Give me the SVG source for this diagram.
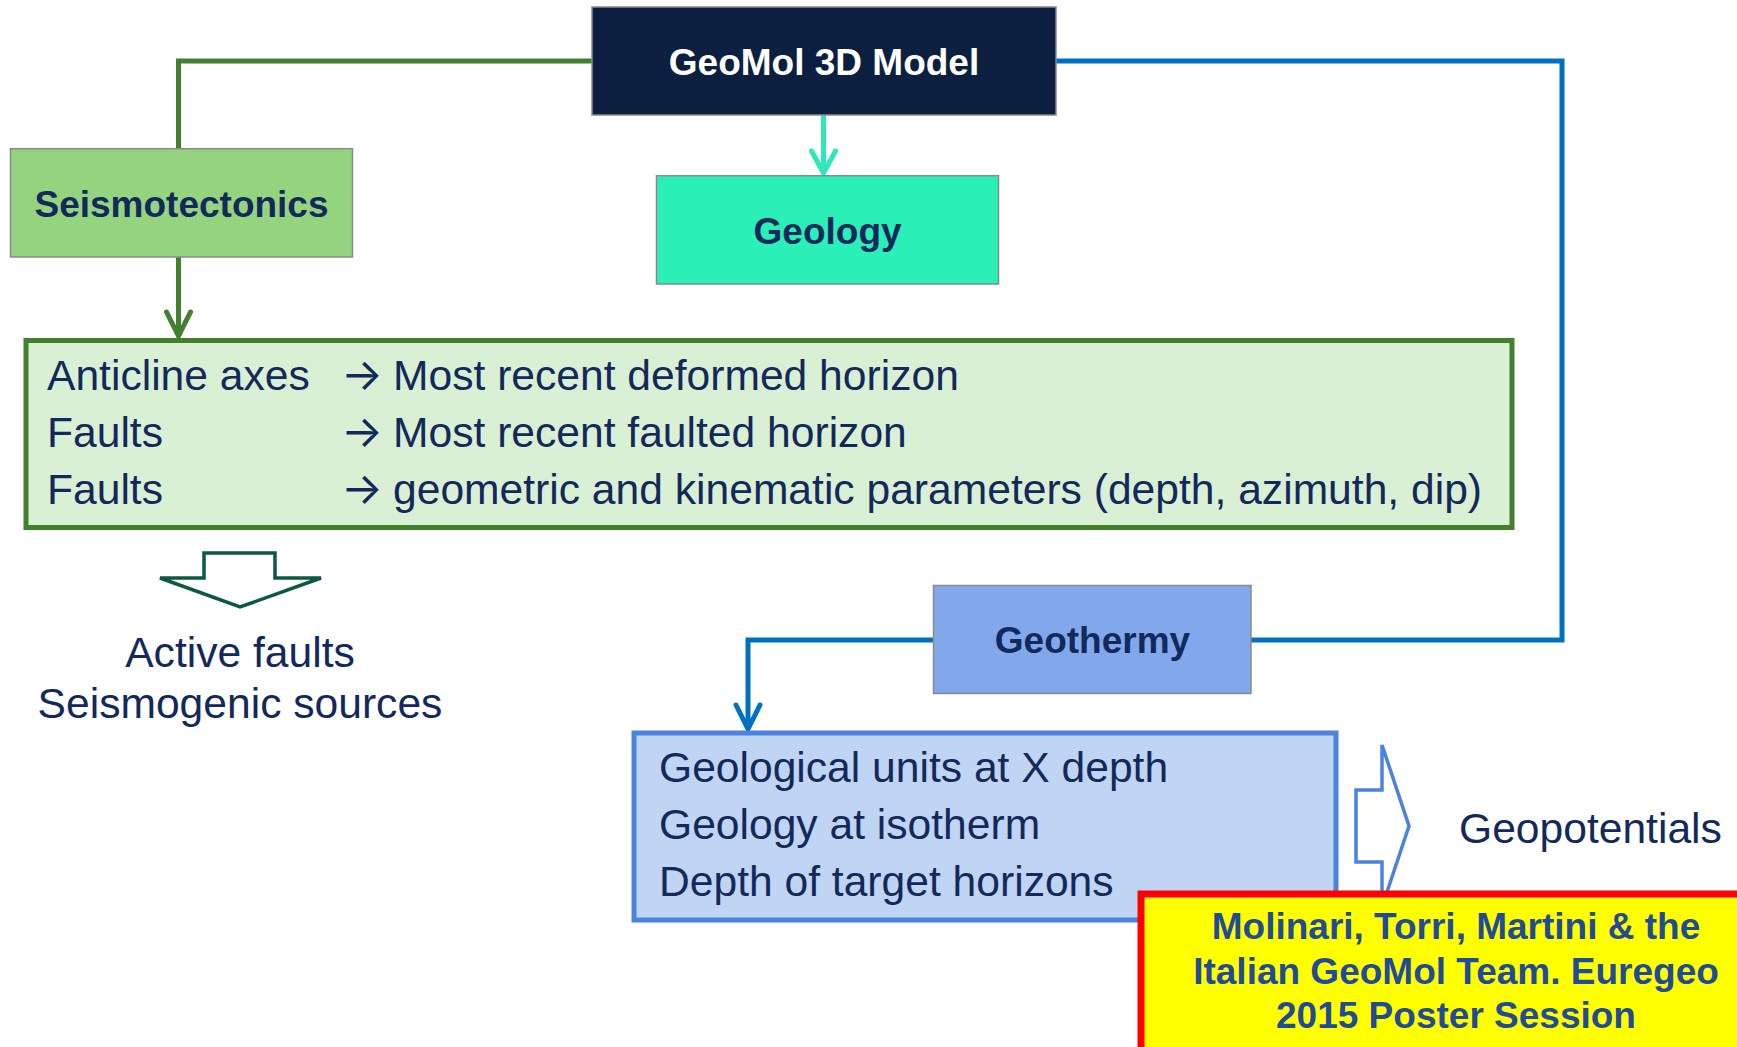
<svg xmlns="http://www.w3.org/2000/svg" width="1737" height="1047" viewBox="0 0 1737 1047">
<style>
.box{stroke:#8a8a8a;stroke-width:1.5}
.lbl{font-family:"Liberation Sans",Arial,sans-serif;font-weight:bold;font-size:37px;fill:#13295b;text-anchor:middle}
.txt{font-family:"Liberation Sans",Arial,sans-serif;font-size:42.6px;fill:#13295b}
.arr{font-family:Inter,"DejaVu Sans",sans-serif;font-size:44px;fill:#13295b}
.cite{font-family:"Liberation Sans",Arial,sans-serif;font-weight:bold;font-size:37px;fill:#1f4b98;text-anchor:middle}
.conn{fill:none;stroke-width:5;stroke-linejoin:miter}
</style>
<defs>
<marker id="mg" markerUnits="userSpaceOnUse" viewBox="-30 -16 34 32" refX="0" refY="0" markerWidth="34" markerHeight="32" orient="auto">
<path d="M-24,-12 L0,0 L-24,12" fill="none" stroke="#43802e" stroke-width="5" stroke-linecap="round"/>
</marker>
<marker id="mt" markerUnits="userSpaceOnUse" viewBox="-30 -16 34 32" refX="0" refY="0" markerWidth="34" markerHeight="32" orient="auto">
<path d="M-22,-12 L0,0 L-22,12" fill="none" stroke="#2ee8b8" stroke-width="5" stroke-linecap="round"/>
</marker>
<marker id="mb" markerUnits="userSpaceOnUse" viewBox="-30 -16 34 32" refX="0" refY="0" markerWidth="34" markerHeight="32" orient="auto">
<path d="M-24,-12 L0,0 L-24,12" fill="none" stroke="#0070c0" stroke-width="5" stroke-linecap="round"/>
</marker>
</defs>
<rect width="1737" height="1047" fill="#ffffff"/>

<g id="connectors">
<path class="conn" stroke="#43802e" d="M592,61 H178.5 V148.7"/>
<path class="conn" stroke="#43802e" d="M178.5,257 V336" marker-end="url(#mg)"/>
<path class="conn" stroke="#2ee8b8" d="M823.5,115 V173" marker-end="url(#mt)"/>
<path class="conn" stroke="#0070c0" d="M1056,61 H1562 V640 H1251"/>
<path class="conn" stroke="#0070c0" d="M933.5,640 H748 V729" marker-end="url(#mb)"/>
</g>

<g id="geomol">
<rect class="box" x="592" y="7" width="464" height="108" fill="#0c1f40"/>
<text class="lbl" x="824" y="75" style="fill:#ffffff">GeoMol 3D Model</text>
</g>

<g id="seismotectonics">
<rect class="box" x="10.5" y="148.7" width="342" height="108.3" fill="#95d47f"/>
<text class="lbl" x="181.5" y="217">Seismotectonics</text>
</g>

<g id="geology">
<rect class="box" x="656.5" y="175.7" width="342" height="108.3" fill="#2af0b8"/>
<text class="lbl" x="827.6" y="244">Geology</text>
</g>

<g id="seismo-results">
<rect x="26" y="340.5" width="1486" height="187" fill="#daf0d4" stroke="#43802e" stroke-width="5"/>
<text class="txt" x="47" y="390">Anticline axes</text>
<text class="txt" x="47" y="447">Faults</text>
<text class="txt" x="47" y="504">Faults</text>
<text class="arr" x="341" y="390">→</text>
<text class="arr" x="341" y="447">→</text>
<text class="arr" x="341" y="504">→</text>
<text class="txt" x="393" y="390">Most recent deformed horizon</text>
<text class="txt" x="393" y="447">Most recent faulted horizon</text>
<text class="txt" x="393" y="504">geometric and kinematic parameters (depth, azimuth, dip)</text>
</g>

<g id="active-faults">
<path d="M204,553 H275 V578 H321 L240,607 L160,578 H204 Z" fill="#ffffff" stroke="#0b5a3a" stroke-width="3.5"/>
<text class="txt" x="240" y="667" text-anchor="middle">Active faults</text>
<text class="txt" x="240" y="718" text-anchor="middle">Seismogenic sources</text>
</g>

<g id="geothermy">
<rect class="box" x="933.5" y="585.5" width="317.5" height="108" fill="#80a8ea"/>
<text class="lbl" x="1092.5" y="653">Geothermy</text>
</g>

<g id="geothermy-results">
<rect x="634" y="733" width="702" height="187" fill="#c0d4f3" stroke="#4a82e0" stroke-width="5"/>
<text class="txt" x="659" y="782">Geological units at X depth</text>
<text class="txt" x="659" y="839">Geology at isotherm</text>
<text class="txt" x="659" y="896">Depth of target horizons</text>
</g>

<g id="geopotentials">
<path d="M1356,790 H1382 V745 L1409,826 L1382,907 V862 H1356 Z" fill="#ffffff" stroke="#4a82e0" stroke-width="3.5"/>
<text class="txt" x="1459" y="843">Geopotentials</text>
</g>

<g id="citation">
<rect x="1141" y="894" width="640" height="170" fill="#ffff00" stroke="#ff0000" stroke-width="7"/>
<text class="cite" x="1456" y="939">Molinari, Torri, Martini &amp; the</text>
<text class="cite" x="1456" y="984">Italian GeoMol Team. Euregeo</text>
<text class="cite" x="1456" y="1028">2015 Poster Session</text>
</g>
</svg>
